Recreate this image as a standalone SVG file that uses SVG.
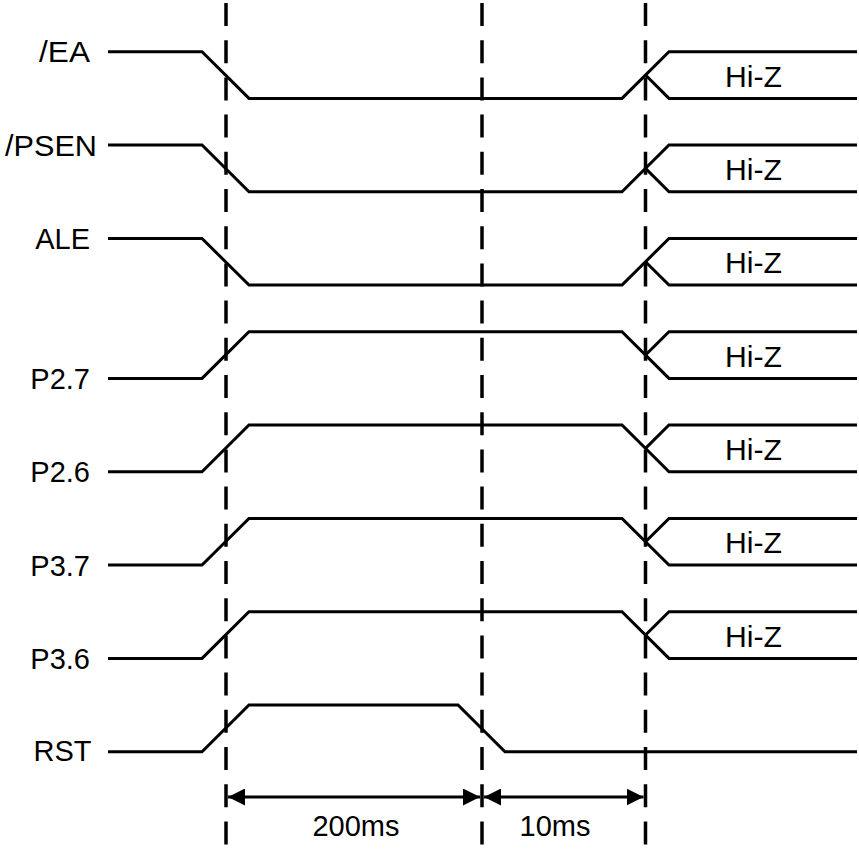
<svg xmlns="http://www.w3.org/2000/svg" width="859" height="850" viewBox="0 0 859 850">
<style>
.sig{fill:none;stroke:#000;stroke-width:3;stroke-linejoin:miter}
.dash{fill:none;stroke:#000;stroke-width:3.5;stroke-dasharray:23 14.2}
.dim{fill:none;stroke:#000;stroke-width:3}
.lbl{font-family:"Liberation Sans",Arial,sans-serif;font-size:29px;fill:#000;text-anchor:end}
.hz{font-family:"Liberation Sans",Arial,sans-serif;font-size:29px;fill:#000;text-anchor:middle}
.tm{font-family:"Liberation Sans",Arial,sans-serif;font-size:29px;fill:#000;text-anchor:middle}
</style>
<defs>
<marker id="ah" viewBox="0 0 17 17" refX="17" refY="8.5" markerWidth="17" markerHeight="17" markerUnits="userSpaceOnUse" orient="auto-start-reverse">
<path d="M0,0 L17,8.5 L0,17 Z" fill="#000"/>
</marker>
</defs>
<g id="guides">
<line class="dash" x1="226" y1="3" x2="226" y2="847"/>
<line class="dash" x1="482" y1="3" x2="482" y2="847"/>
<line class="dash" x1="645.5" y1="3" x2="645.5" y2="847"/>
</g>
<g id="sig-EA">
<text class="lbl" x="90" y="61.5" textLength="51" lengthAdjust="spacingAndGlyphs">/EA</text>
<path class="sig" d="M108,51.7 H202 L249,98.4 H622 L669,51.7 H857"/>
<path class="sig" d="M645.5,75 L669,98.4 H857"/>
<text class="hz" x="753.5" y="86.7" textLength="57" lengthAdjust="spacingAndGlyphs">Hi-Z</text>
</g>
<g id="sig-PSEN">
<text class="lbl" x="97" y="156" textLength="92" lengthAdjust="spacingAndGlyphs">/PSEN</text>
<path class="sig" d="M108,145 H202 L249,191.7 H622 L669,145 H857"/>
<path class="sig" d="M645.5,168.4 L669,191.7 H857"/>
<text class="hz" x="753.5" y="180" textLength="57" lengthAdjust="spacingAndGlyphs">Hi-Z</text>
</g>
<g id="sig-ALE">
<text class="lbl" x="90" y="249">ALE</text>
<path class="sig" d="M108,238.4 H202 L249,285.1 H622 L669,238.4 H857"/>
<path class="sig" d="M645.5,261.7 L669,285.1 H857"/>
<text class="hz" x="753.5" y="273.4" textLength="57" lengthAdjust="spacingAndGlyphs">Hi-Z</text>
</g>
<g id="sig-P27">
<text class="lbl" x="90" y="389">P2.7</text>
<path class="sig" d="M108,378.4 H202 L249,331.7 H622 L669,378.4 H857"/>
<path class="sig" d="M645.5,355 L669,331.7 H857"/>
<text class="hz" x="753.5" y="366.7" textLength="57" lengthAdjust="spacingAndGlyphs">Hi-Z</text>
</g>
<g id="sig-P26">
<text class="lbl" x="90" y="482.3">P2.6</text>
<path class="sig" d="M108,471.7 H202 L249,425 H622 L669,471.7 H857"/>
<path class="sig" d="M645.5,448.4 L669,425 H857"/>
<text class="hz" x="753.5" y="460" textLength="57" lengthAdjust="spacingAndGlyphs">Hi-Z</text>
</g>
<g id="sig-P37">
<text class="lbl" x="90" y="575.6">P3.7</text>
<path class="sig" d="M108,565 H202 L249,518.4 H622 L669,565 H857"/>
<path class="sig" d="M645.5,541.7 L669,518.4 H857"/>
<text class="hz" x="753.5" y="553.4" textLength="57" lengthAdjust="spacingAndGlyphs">Hi-Z</text>
</g>
<g id="sig-P36">
<text class="lbl" x="90" y="669">P3.6</text>
<path class="sig" d="M108,658.4 H202 L249,611.7 H622 L669,658.4 H857"/>
<path class="sig" d="M645.5,635 L669,611.7 H857"/>
<text class="hz" x="753.5" y="646.7" textLength="57" lengthAdjust="spacingAndGlyphs">Hi-Z</text>
</g>
<g id="sig-RST">
<text class="lbl" x="91.5" y="760.5">RST</text>
<path class="sig" d="M108,751.7 H202 L249,705 H458 L505,751.7 H857"/>
</g>
<g id="connectors">
<line class="dim" x1="228" y1="797" x2="480" y2="797" marker-start="url(#ah)" marker-end="url(#ah)"/>
<line class="dim" x1="484" y1="797" x2="643.5" y2="797" marker-start="url(#ah)" marker-end="url(#ah)"/>
</g>
<g id="dims">
<text class="tm" x="356" y="836">200ms</text>
<text class="tm" x="555" y="836">10ms</text>
</g>
</svg>
